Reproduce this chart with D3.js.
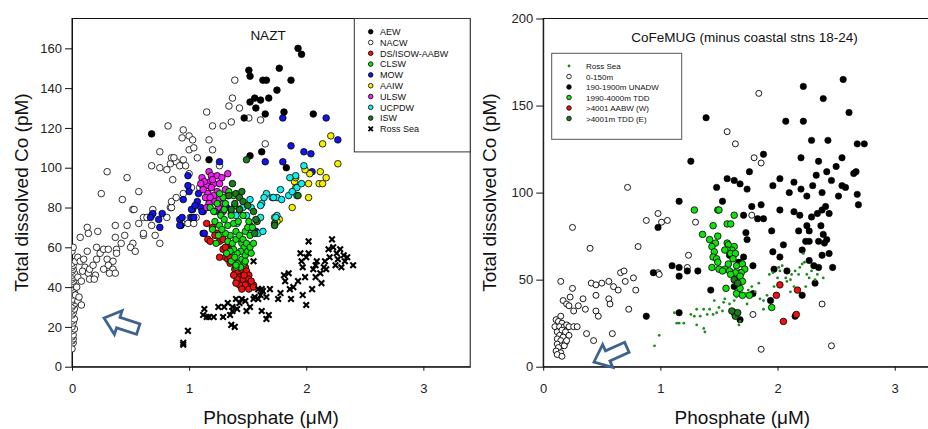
<!DOCTYPE html>
<html>
<head>
<meta charset="utf-8">
<script src="https://cdn.jsdelivr.net/npm/d3@7"></script>
<style>
  body { margin: 0; background: #fff; }
  svg { display: block; font-family: "Liberation Sans", Arial, sans-serif; }
</style>
</head>
<body>
<svg id="chart" width="928" height="429"></svg>
<script>
// ---- left panel (NAZT): [phosphate µM, Co pM] ----
const AEW = [[1.93,160],[1.96,157],[1.51,149],[1.77,150],[1.52,146],[1.63,144],[1.66,144],[1.87,144],
  [1.52,133],[1.56,135],[1.61,134],[1.68,135],[1.75,139],[1.57,130],[1.47,125],[1.65,127],[1.81,128],
  [2.06,127],[0.68,117],[1.17,104],[1.52,106],[1.62,108],[1.83,100]];
const NACW = [[0,9],[0.01,12],[0,13],[0.01,14],[0,15],[0.01,16],[0,18],[0.02,19],[0,20],[0.01,22],[0,23],
  [0.02,24],[0,26],[0.01,27],[0,28],[0.02,29],[0,30],[0.01,31],[0.03,32],[0,33],[0.01,34],[0,36],[0.02,37],
  [0,38],[0.01,39],[0,40],[0.02,41],[0,42],[0.01,43],[0,44],[0.01,45],[0,46],[0.02,47],[0,48],[0.01,49],
  [0,50],[0.01,51],[0,52],[0,58],[0.01,60],[0.03,36],[0.05,33],[0.08,31],[0.04,40],[0.06,35],[0.03,53],
  [0.05,55],[0.07,53],[0.10,54],[0.11,50],[0.09,48],[0.05,45],[0.08,43],[0.14,47],[0.15,49],[0.18,51],
  [0.21,54],[0.20,46],[0.15,44],[0.19,44],[0.13,58],[0.21,60],[0.24,57],[0.27,59],[0.31,59],[0.38,59],
  [0.38,57],[0.30,54],[0.35,53],[0.31,51],[0.35,49],[0.27,49],[0.32,47],[0.37,47],[0.07,65],[0.13,70],
  [0.14,67],[0.22,68],[0.37,71],[0.37,65],[0.45,66],[0.42,62],[0.47,71],[0.57,72],[0.61,66],[0.71,66],
  [0.75,62],[0.52,62],[0.50,60],[0.54,58],[0.52,79],[0.84,80],[0.68,76],[0.61,75],[0.68,71],[0.64,75],
  [0.61,67],[0.81,75],[0.85,80],[0.94,72],[0.99,72],[1.04,72],[1.01,75],[1.06,75],[0.69,79],[0.85,83],
  [0.89,85],[0.95,87],[1.02,90],[1.09,90],[1.12,90],[0.43,84],[0.57,88],[0.25,87],[0.30,98],[0.47,95],
  [0.53,79],[0.68,101],[0.75,100],[0.81,99],[0.84,102],[0.89,103],[0.92,101],[0.97,101],[1.0,97],
  [0.86,94],[0.85,105],[0.95,104],[1.07,105],[1.26,101],[0.75,108],[1.0,109],[1.04,110],[1.2,109],
  [1.65,112],[0.94,115],[1.0,116],[1.03,114],[1.17,114],[0.95,119],[0.82,121],[1.20,121],[1.29,121],
  [1.36,123],[1.61,124],[1.51,125],[1.15,128],[1.34,131],[1.43,130],[1.37,135],[1.39,144],[0.87,105]];
const DSISOW = [[1.15,72],[1.16,64],[1.18,63],[1.23,67],[1.26,63],[1.29,59],[1.31,55],[1.33,54],[1.35,52],
  [1.38,54],[1.39,49],[1.42,48],[1.45,49],[1.48,50],[1.49,48],[1.51,46],[1.43,45],[1.46,44],[1.51,44],
  [1.41,44],[1.52,42],[1.48,41],[1.43,41],[1.55,41],[1.51,39],[1.55,40],[1.45,39],[1.40,42],[1.36,59],
  [1.32,60],[1.29,64],[1.24,67],[1.31,60],[1.35,55],[1.26,55],[1.20,70],[1.22,66],[1.38,46],[1.53,43],
  [1.47,46]];
const CLSW = [[1.18,80],[1.21,78],[1.24,82],[1.27,76],[1.30,79],[1.22,73],[1.26,71],[1.30,74],[1.33,71],
  [1.36,76],[1.38,72],[1.40,68],[1.42,73],[1.35,66],[1.31,67],[1.28,69],[1.25,66],[1.33,63],[1.37,62],
  [1.40,64],[1.43,66],[1.45,62],[1.47,60],[1.44,58],[1.41,57],[1.38,59],[1.35,58],[1.32,57],[1.36,53],
  [1.39,55],[1.42,52],[1.45,54],[1.48,56],[1.50,58],[1.47,52],[1.44,50],[1.40,50],[1.46,64],[1.48,68],
  [1.50,70],[1.52,66],[1.49,62],[1.52,60],[1.55,62],[1.53,57],[1.38,86],[1.34,88],[1.29,85],[1.26,87],
  [1.31,82],[1.20,69],[1.23,62],[1.39,81],[1.43,79],[1.46,76],[1.51,73],[1.54,70],[1.48,53],[1.40,51]];
const MOW = [[1.80,125],[2.17,125],[1.87,111],[1.98,108],[2.04,107],[2.27,114],[1.65,103],[1.80,103],
  [2.05,98],[1.26,103],[0.99,91],[0.95,84],[1.03,79],[0.92,74],[0.93,71],[0.74,74],[0.75,70],[0.69,77],
  [0.67,75],[0.77,77],[1.02,75],[1.04,75],[1.12,78],[1.12,67],[1.08,87],[1.07,83],[1.10,80],[1.32,80],
  [1.43,79],[1.52,71],[0.94,75],[0.92,71],[1.02,79],[1.11,78],[1.13,67],[1.57,68],[1.0,88],[0.99,96],
  [1.05,81],[1.15,85],[1.27,77]];
const AAIW = [[2.21,116],[2.14,112],[2.27,102],[2.12,98],[2.17,95],[2.03,97],[2.11,92],[2.14,92],[2.02,92],
  [1.90,93],[1.91,90],[2.02,85],[1.88,80],[1.99,99],[1.91,95],[1.73,75],[1.77,74],[1.75,73]];
const ULSW = [[1.11,95],[1.17,98],[1.19,96],[1.24,96],[1.28,95],[1.33,97],[1.18,93],[1.21,92],[1.15,91],
  [1.19,90],[1.12,89],[1.24,88],[1.16,87],[1.21,86],[1.14,85],[1.18,85],[1.22,83],[1.26,84],[1.29,82],
  [1.17,82],[1.25,80],[1.33,86],[1.36,77],[1.29,78],[1.26,92],[1.13,93],[1.20,94],[1.15,80],[1.22,78],
  [1.10,92],[1.31,89]];
const UCPDW = [[1.98,101],[1.91,96],[1.86,95],[1.92,90],[1.92,86],[1.85,86],[1.78,89],[1.75,85],[1.71,85],
  [1.66,87],[1.64,85],[1.62,82],[1.52,84],[1.46,80],[1.53,80],[1.49,76],[1.40,76],[1.41,72],[1.61,75],
  [1.59,67],[1.47,62],[1.75,76],[1.74,75],[1.79,84],[1.72,85],[1.61,81],[1.53,67],[1.63,68],[1.96,92],
  [1.88,88]];
const ISW = [[1.40,87],[1.43,85],[1.39,82],[1.46,83],[1.34,86],[1.49,104],[1.73,72],[1.56,67],[1.93,86],
  [1.55,78],[1.58,73],[1.43,79],[1.37,92],[1.57,74],[1.73,71],[1.50,81],[1.36,79],[1.45,88]];
const ROSS_L = [[0.95,12],[0.95,11],[0.99,18],[1.13,29],[1.12,26],[1.15,25],[1.17,25],[1.21,25],[1.25,30],
  [1.29,25],[1.30,30],[1.35,26],[1.36,21],[1.39,20],[1.33,32],[1.37,30],[1.40,34],[1.43,32],[1.37,28],
  [1.41,29],[1.45,34],[1.48,33],[1.49,28],[1.52,30],[1.55,34],[1.56,35],[1.59,34],[1.61,36],[1.62,28],
  [1.63,38],[1.66,35],[1.68,26],[1.66,24],[1.55,53],[1.59,39],[1.62,39],[1.69,39],[1.76,34],[1.78,37],
  [1.81,46],[1.82,43],[1.85,47],[1.86,39],[1.89,40],[1.87,34],[1.93,43],[1.95,57],[1.96,53],[1.97,50],
  [1.99,45],[2.0,55],[2.02,57],[2.02,63],[2.0,31],[1.97,36],[2.05,39],[2.06,49],[2.08,51],[2.09,53],
  [2.13,42],[2.12,47],[2.15,50],[2.16,53],[2.19,59],[2.2,55],[2.22,64],[2.23,60],[2.25,51],[2.26,57],
  [2.27,54],[2.29,59],[2.30,50],[2.32,56],[2.33,53],[2.35,55],[2.40,51],[2.17,49],[2.08,45]];

// ---- right panel (CoFeMUG) ----
const ROSS_R = [[0.95,12],[0.99,18],[1.12,31],[1.14,25],[1.16,25],[1.20,25],[1.26,30],[1.29,29],[1.31,24],
  [1.37,22],[1.38,20],[1.34,29],[1.37,33],[1.40,30],[1.42,33],[1.45,30],[1.48,31],[1.50,34],[1.53,32],
  [1.54,37],[1.55,39],[1.59,36],[1.63,38],[1.65,40],[1.67,24],[1.68,26],[1.73,42],[1.75,44],[1.78,46],
  [1.81,43],[1.84,48],[1.85,39],[1.88,38],[1.91,41],[1.93,53],[1.96,54],[1.97,46],[2.0,51],[2.01,57],
  [2.02,55],[2.04,58],[2.07,51],[2.08,49],[2.11,50],[2.12,53],[2.14,46],[2.15,55],[2.18,53],[2.19,57],
  [2.21,59],[2.22,65],[2.23,60],[2.25,53],[2.27,51],[2.29,55],[2.32,50],[2.34,53],[2.39,51],[1.88,33],
  [1.74,36],[1.46,38],[1.31,33],[2.24,46],[2.11,43]];
const SURF = [[0.15,49],[0.25,45],[0.23,40],[0.17,38],[0.20,36],[0.22,35],[0.26,32],[0.30,35],[0.34,39],
  [0.36,33],[0.41,48],[0.45,47],[0.45,41],[0.45,32],[0.47,29],[0.50,48],[0.56,49],[0.60,46],[0.64,44],
  [0.56,39],[0.57,36],[0.59,19],[0.37,19],[0.43,15],[0.66,54],[0.69,55],[0.77,51],[0.79,44],[0.73,33],
  [0.70,49],[0.81,69],[0.40,68],[0.25,80],[0.88,84],[0.98,88],[1.01,83],[1.06,84],[1.30,83],[1.24,64],
  [1.23,57],[0.98,54],[0.99,53],[1.78,87],[1.79,30],[1.86,10],[2.46,12],[2.38,36],[1.84,157],[1.57,135],
  [1.64,128],[0.72,103],[1.80,120],[1.86,117],[0.15,29],[0.11,27],[0.13,26],[0.16,25],[0.10,23],
  [0.14,23],[0.18,23],[0.20,24],[0.22,23],[0.26,23],[0.29,23],[0.12,20],[0.16,21],[0.19,20],[0.22,18],
  [0.14,18],[0.17,17],[0.12,16],[0.15,15],[0.19,14],[0.12,13],[0.16,12],[0.13,11],[0.11,9],[0.15,8],
  [0.12,7],[0.16,6],[0.18,12],[0.20,15]];
const UNADW = [[1.39,143],[2.07,141],[2.22,141],[2.22,161],[2.39,154],[2.56,165],[2.61,146],[2.29,130],
  [2.43,130],[2.68,128],[2.74,128],[2.65,111],[2.67,112],[2.55,104],[2.68,99],[1.26,118],[1.48,103],
  [1.63,107],[1.68,105],[1.74,102],[1.88,122],[1.96,104],[2.02,108],[2.10,100],[2.14,106],[2.20,102],
  [2.25,98],[2.30,104],[2.33,110],[2.38,100],[2.42,112],[2.46,107],[2.50,115],[2.52,98],[2.58,103],
  [2.55,120],[2.35,118],[2.20,120],[1.76,112],[1.57,108],[1.16,95],[1.53,95],[1.71,87],[1.78,92],
  [1.83,85],[1.88,85],[1.86,93],[2.02,90],[2.14,89],[2.19,87],[2.18,78],[2.25,81],[2.27,78],[2.29,86],
  [2.34,88],[2.38,90],[2.41,92],[2.44,88],[2.37,81],[2.39,76],[2.35,72],[2.27,72],[2.24,72],[2.40,71],
  [2.42,73],[2.69,93],[2.05,70],[1.95,78],[1.73,77],[1.74,73],[1.71,63],[1.59,64],[1.96,66],[2.02,63],
  [2.21,67],[2.38,64],[2.44,65],[2.27,61],[2.31,58],[2.35,57],[2.47,57],[2.08,55],[1.97,56],[1.79,58],
  [1.67,60],[1.68,54],[1.10,58],[1.16,57],[1.32,55],[1.23,55],[0.94,54],[1.16,52],[1.43,44],[1.64,50],
  [1.63,46],[1.79,42],[1.94,38],[2.21,41],[2.32,48],[2.15,29],[1.68,27],[0.88,29],[1.16,31],[0.98,80]];
const TDD = [[1.29,90],[1.49,90],[1.50,90],[1.63,87],[1.57,82],[1.60,82],[1.45,81],[1.36,76],[1.49,75],
  [1.42,73],[1.47,71],[1.44,69],[1.46,66],[1.45,63],[1.48,62],[1.49,60],[1.44,57],[1.50,56],[1.55,56],
  [1.57,71],[1.58,70],[1.63,69],[1.61,67],[1.57,67],[1.60,65],[1.64,65],[1.55,67],[1.62,62],[1.58,59],
  [1.65,58],[1.70,59],[1.72,56],[1.69,54],[1.64,54],[1.59,55],[1.53,55],[1.60,53],[1.68,52],[1.70,49],
  [1.56,45],[1.65,42],[1.70,41],[1.76,41],[1.68,45],[1.95,34]];
const AABW_W = [[2.02,47],[1.99,41],[2.17,44],[2.16,30],[2.05,26]];
const TDD_E = [[1.63,31],[1.64,29],[1.61,32],[1.66,31],[1.63,50],[1.66,48]];

const X_TICKS = [0, 1, 2, 3];
const Y_TICKS_L = [0, 20, 40, 60, 80, 100, 120, 140, 160];
const Y_TICKS_R = [0, 50, 100, 150, 200];

const LEGEND_L = ["AEW", "NACW", "DS/ISOW-AABW", "CLSW", "MOW", "AAIW", "ULSW", "UCPDW", "ISW", "Ross Sea"];
const LEGEND_R = ["Ross Sea", "0-150m", "190-1900m UNADW", "1990-4000m TDD", ">4001 AABW (W)", ">4001m TDD (E)"];

const C = {
  black: "#000", white: "#fff", red: "#ee1111", green: "#11e011", blue: "#1414e6",
  yellow: "#f4f000", magenta: "#ee22ee", cyan: "#17ecec", dkgreen: "#1d7a1d", ross: "#1f8a1f",
  arrow: "#3f6391"
};

const svg = d3.select("#chart");
const TOP = 18.5, BOT = 366.7;

function panel(o) {
  const x = d3.scaleLinear().domain([0, 3.4]).range([o.x0, o.x1]);
  const y = d3.scaleLinear().domain([0, o.ymax]).range([BOT, TOP]);
  const g = svg.append("g");

  g.append("rect")
    .attr("x", o.x0).attr("y", TOP).attr("width", o.x1 - o.x0).attr("height", BOT - TOP)
    .attr("fill", "none").attr("stroke", "#111").attr("stroke-width", 1);

  const ax = g.append("g").attr("transform", `translate(0,${BOT})`)
    .call(d3.axisBottom(x).tickValues(X_TICKS).tickFormat(d3.format("d")).tickSize(4).tickSizeOuter(0).tickPadding(13));
  const ay = g.append("g").attr("transform", `translate(${o.x0},0)`)
    .call(d3.axisLeft(y).tickValues(o.yticks).tickSize(7).tickSizeOuter(0).tickPadding(3));
  [ax, ay].forEach((a) => {
    a.select(".domain").attr("stroke", "#111");
    a.selectAll("line").attr("stroke", "#111");
    a.selectAll("text").attr("font-size", 13).attr("fill", "#222")
      .attr("font-family", "'Liberation Sans', Arial, sans-serif");
  });

  g.append("text").attr("x", (o.x0 + o.x1) / 2).attr("y", 424).attr("text-anchor", "middle")
    .attr("font-size", 19).attr("fill", "#111").text("Phosphate (\u03BCM)");
  g.append("text").attr("transform", `translate(${o.ytx},${(TOP + BOT) / 2}) rotate(-90)`)
    .attr("text-anchor", "middle").attr("font-size", 19).attr("fill", "#111")
    .text("Total dissolved Co (pM)");
  g.append("text").attr("x", o.tx).attr("y", o.ty).attr("text-anchor", "middle")
    .attr("font-size", 13.5).attr("fill", "#111").text(o.title);

  const clipId = "clip" + o.x0;
  svg.append("clipPath").attr("id", clipId).append("rect")
    .attr("x", o.x0).attr("y", TOP).attr("width", o.x1 - o.x0).attr("height", BOT - TOP);
  const pts = g.append("g").attr("clip-path", `url(#${clipId})`);
  return { x, y, g, pts };
}

function dots(p, data, r, fill, stroke, sw) {
  p.pts.append("g").selectAll("circle").data(data).join("circle")
    .attr("cx", (d) => p.x(d[0])).attr("cy", (d) => p.y(d[1])).attr("r", r)
    .attr("fill", fill).attr("stroke", stroke || "none").attr("stroke-width", sw || 0);
}

const CROSS = "M-2.8,-2.8L2.8,2.8M-2.8,2.8L2.8,-2.8";
function crosses(p, data) {
  p.pts.append("g").selectAll("path").data(data).join("path")
    .attr("transform", (d) => `translate(${p.x(d[0])},${p.y(d[1])})`)
    .attr("d", CROSS).attr("stroke", "#000").attr("stroke-width", 2.1).attr("fill", "none");
}

// hollow block arrow, tip at (tx,ty), tail pointing at angle a (deg)
function arrow(tx, ty, a) {
  const shape = [[0,0],[15,-12.5],[15,-5.5],[36,-5.5],[36,5.5],[15,5.5],[15,12.5]];
  svg.append("path")
    .attr("d", "M" + shape.map((q) => q.join(",")).join("L") + "Z")
    .attr("transform", `translate(${tx},${ty}) rotate(${a})`)
    .attr("fill", "#fff").attr("stroke", C.arrow).attr("stroke-width", 2.8)
    .attr("stroke-linejoin", "miter");
}

// ---------- left: NAZT ----------
const L = panel({ x0: 72, x1: 470.2, ymax: 175, yticks: Y_TICKS_L, ytx: 28, tx: 268, ty: 40, title: "NAZT" });
const R0 = 3.3, SW = 0.8;
dots(L, NACW, R0, C.white, "#000", SW);
dots(L, MOW, R0, C.blue, "#000", SW);
dots(L, AEW, R0, C.black, "#000", SW);
dots(L, AAIW, R0, C.yellow, "#000", SW);
dots(L, ULSW, R0, C.magenta, "#000", SW);
dots(L, UCPDW, R0, C.cyan, "#000", SW);
dots(L, DSISOW, R0, C.red, "#000", SW);
dots(L, CLSW, 3.2, C.green, "#000", SW);
dots(L, ISW, R0, C.dkgreen, "#000", SW);
crosses(L, ROSS_L);

// legend (left)
const lfill = [C.black, C.white, C.red, C.green, C.blue, C.yellow, C.magenta, C.cyan, C.dkgreen, null];
const lg = svg.append("g");
lg.append("rect").attr("x", 354.3).attr("y", TOP).attr("width", 470.2 - 354.3).attr("height", 133.4)
  .attr("fill", "#fff").attr("stroke", "#333").attr("stroke-width", 1);
LEGEND_L.forEach((name, i) => {
  const yy = 31.7 + i * 10.8;
  if (lfill[i]) {
    lg.append("circle").attr("cx", 370.7).attr("cy", yy).attr("r", 2.3)
      .attr("fill", lfill[i]).attr("stroke", "#000").attr("stroke-width", 0.8);
  } else {
    lg.append("path").attr("transform", `translate(370.7,${yy}) scale(0.8)`).attr("d", CROSS)
      .attr("stroke", "#000").attr("stroke-width", 2.2).attr("fill", "none");
  }
  lg.append("text").attr("x", 380).attr("y", yy + 3.2).attr("font-size", 9).attr("fill", "#111").text(name);
});

// ---------- right: CoFeMUG ----------
const R = panel({ x0: 543.2, x1: 941.6, ymax: 200, yticks: Y_TICKS_R, ytx: 496, tx: 744.5, ty: 41.7,
  title: "CoFeMUG (minus coastal stns 18-24)" });
dots(R, SURF, 3, C.white, "#000", 0.9);
dots(R, UNADW, 3.2, C.black, "#000", 0.6);
dots(R, TDD, 3.3, C.green, "#000", 0.8);
dots(R, AABW_W, 3.3, C.red, "#000", 0.8);
dots(R, TDD_E, 3.3, C.dkgreen, "#000", 0.8);
dots(R, ROSS_R, 1.4, C.ross);

// legend (right)
const rstyle = [
  { r: 1.4, f: C.ross, s: "none" }, { r: 2.3, f: C.white, s: "#000" }, { r: 2.3, f: C.black, s: "#000" },
  { r: 2.3, f: C.green, s: "#000" }, { r: 2.3, f: C.red, s: "#000" }, { r: 2.3, f: C.dkgreen, s: "#000" }
];
const rg = svg.append("g");
rg.append("rect").attr("x", 551.7).attr("y", 53.3).attr("width", 130).attr("height", 86)
  .attr("fill", "#fff").attr("stroke", "#555").attr("stroke-width", 1);
LEGEND_R.forEach((name, i) => {
  const yy = 66 + i * 10.5;
  rg.append("circle").attr("cx", 569).attr("cy", yy).attr("r", rstyle[i].r)
    .attr("fill", rstyle[i].f).attr("stroke", rstyle[i].s).attr("stroke-width", 0.8);
  rg.append("text").attr("x", 586).attr("y", yy + 3).attr("font-size", 8).attr("fill", "#111").text(name);
});

arrow(104, 318, 18);
arrow(594, 362, -24);
</script>
</body>
</html>
